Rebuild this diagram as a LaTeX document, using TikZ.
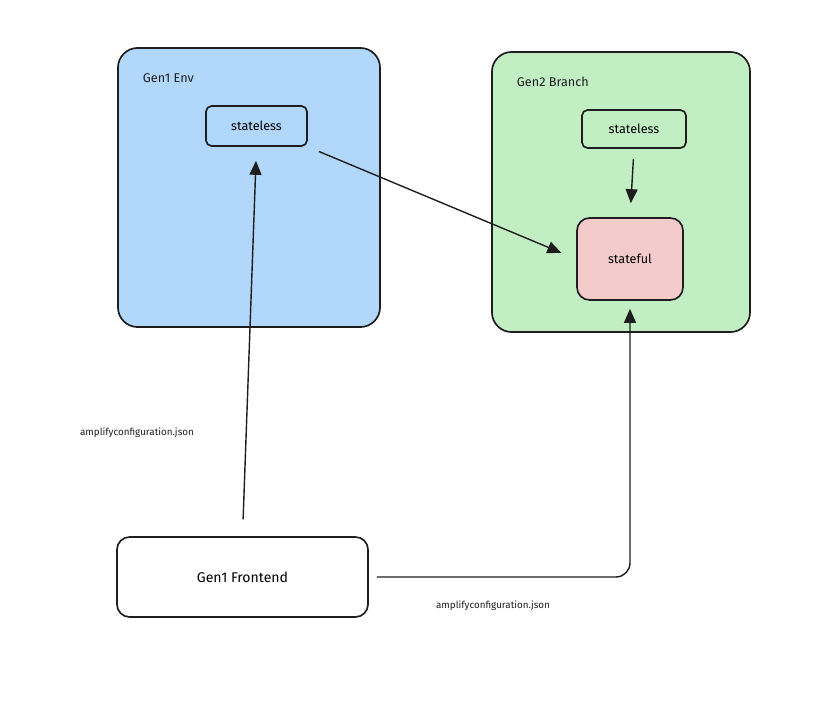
\documentclass[tikz,border=0pt]{standalone}
\usepackage{fontspec}
\setmainfont{Fira Sans}
\usetikzlibrary{arrows.meta,positioning}
\definecolor{envblue}{HTML}{B1D7FB}
\definecolor{branchgreen}{HTML}{C2EEC4}
\definecolor{statepink}{HTML}{F3CBCA}
\definecolor{ink}{HTML}{1E1E1E}
\tikzset{
    % Environment containers
    envbox/.style={
        rectangle,
        rounded corners=14pt,
        draw=ink,
        fill=#1,
        line width=1.2pt
    },
    % Inner components
    part/.style={
        rectangle,
        rounded corners=4pt,
        align=center,
        font=\small,
        draw=ink,
        fill=#1,
        line width=1.2pt
    },
    % Arrow style
    flow/.style={
        -{Triangle[length=3.5mm, width=3mm]},
        line width=1pt,
        color=ink
    },
    % Label styles
    box title/.style={font=\small, text=ink},
    file label/.style={font=\scriptsize, text=ink}
}
\begin{document}
\begin{tikzpicture}[x=0.025cm, y=-0.025cm]
    \useasboundingbox (0,0) rectangle (818,706);

    % Containers
    \node[envbox=envblue, minimum width=6.55cm, minimum height=6.975cm] (gen1) at (249,187.5) {};
    \node[envbox=branchgreen, minimum width=6.45cm, minimum height=7cm] (gen2) at (621,192) {};
    \node[box title, anchor=west] (gen1title) at (138,78) {Gen1 Env};
    \node[box title, anchor=west] (gen2title) at (512,82) {Gen2 Branch};

    % Components
    \node[part=envblue, minimum width=2.525cm, minimum height=1cm] (sll) at (256.5,126) {stateless};
    \node[part=branchgreen, minimum width=2.6cm, minimum height=0.95cm] (slr) at (634,129) {stateless};
    \node[part=statepink, rounded corners=9pt, minimum width=2.65cm, minimum height=2.05cm] (sf) at (630,259) {stateful};
    \node[part=white, rounded corners=9pt, font=\normalsize, minimum width=6.275cm, minimum height=2cm] (front) at (242.5,577) {Gen1 Frontend};

    % Connections
    \draw[flow, shorten <=0.42cm, shorten >=0.35cm] (front.north) -- (sll.south);
    \draw[flow, shorten <=0.3cm, shorten >=0.4cm] (sll.south east) -- (sf.west);
    \draw[flow, shorten <=0.25cm, shorten >=0.35cm] (slr.south) -- (sf.north);
    \draw[flow, rounded corners=10pt, shorten <=0.2cm, shorten >=0.2cm] (front.east) -| (sf.south);

    % File labels
    \node[file label] (cfg1) at (137,433) {amplifyconfiguration.json};
    \node[file label] (cfg2) at (493,606) {amplifyconfiguration.json};
\end{tikzpicture}
\end{document}
